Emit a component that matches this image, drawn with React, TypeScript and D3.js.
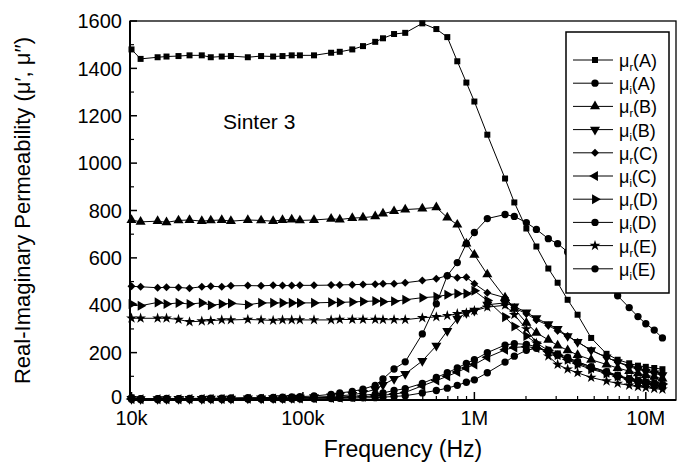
import React from "react";
import * as d3 from "d3";

const freqs = [10e3, 11.3e3, 14.2e3, 16e3, 18.8e3, 21.8e3, 25.7e3, 29e3, 33.6e3, 38e3, 47.7e3, 57e3, 67e3, 76e3, 86e3, 96e3, 116e3, 146e3, 164e3, 194e3, 224e3, 264e3, 293e3, 340e3, 395e3, 497e3, 600e3, 695e3, 795e3, 898e3, 1e6, 1.19e6, 1.51e6, 1.71e6, 2.01e6, 2.3e6, 2.7e6, 3.06e6, 3.5e6, 4e6, 4.8e6, 5.9e6, 6.85e6, 8e6, 9e6, 10e6, 11.2e6, 12.5e6];

const muRA = [1480, 1440, 1447, 1450, 1452, 1455, 1455, 1447, 1450, 1452, 1447, 1452, 1450, 1452, 1455, 1455, 1455, 1466, 1470, 1480, 1494, 1512, 1527, 1545, 1550, 1590, 1566, 1532, 1430, 1340, 1260, 1120, 935, 834, 724, 648, 555, 495, 423, 360, 262, 195, 170, 155, 145, 140, 135, 130];
const muIA = [10, 6, 6, 7, 6, 7, 7, 8, 8, 9, 10, 10, 11, 12, 13, 14, 17, 24, 30, 36, 46, 62, 89, 131, 161, 279, 406, 525, 580, 660, 707, 766, 783, 775, 749, 720, 681, 660, 625, 590, 540, 480, 440, 390, 352, 322, 295, 262];
const muRB = [760, 752, 755, 750, 758, 760, 755, 758, 760, 755, 760, 758, 755, 760, 762, 758, 760, 765, 762, 768, 770, 775, 787, 797, 804, 808, 813, 770, 740, 660, 613, 530, 432, 385, 326, 284, 254, 230, 210, 190, 170, 150, 135, 122, 113, 105, 98, 90];
const muIB = [5, 4, 4, 4, 5, 5, 5, 6, 6, 6, 7, 7, 8, 8, 9, 10, 12, 15, 18, 22, 30, 45, 64, 89, 110, 165, 229, 292, 343, 368, 377, 402, 410, 395, 370, 345, 320, 300, 270, 245, 210, 180, 160, 140, 130, 120, 112, 105];
const muRC = [480, 478, 474, 476, 475, 472, 478, 480, 478, 482, 483, 482, 484, 483, 483, 484, 484, 485, 486, 487, 488, 489, 491, 491, 495, 504, 512, 525, 516, 518, 491, 453, 432, 389, 364, 338, 315, 292, 270, 245, 210, 180, 160, 145, 135, 125, 118, 112];
const muIC = [4, 3, 3, 3, 3, 4, 4, 4, 4, 5, 5, 5, 6, 6, 6, 7, 8, 9, 10, 12, 14, 17, 20, 25, 32, 60, 82, 100, 118, 135, 150, 180, 212, 222, 225, 220, 205, 190, 172, 155, 135, 115, 100, 88, 80, 72, 66, 60];
const muRD = [405, 398, 412, 405, 410, 405, 410, 400, 405, 408, 402, 410, 410, 410, 410, 410, 410, 412, 412, 414, 416, 418, 415, 417, 423, 432, 436, 444, 449, 449, 461, 420, 350, 310, 270, 240, 210, 190, 170, 150, 130, 112, 100, 90, 84, 78, 73, 68];
const muID = [6, 5, 5, 5, 5, 5, 6, 6, 6, 6, 7, 7, 7, 8, 8, 9, 10, 11, 13, 15, 20, 25, 30, 40, 48, 70, 95, 115, 135, 155, 170, 200, 232, 238, 235, 225, 205, 190, 175, 160, 140, 120, 105, 90, 82, 75, 68, 62];
const muRE = [345, 345, 345, 345, 340, 330, 333, 335, 338, 338, 340, 338, 336, 338, 338, 338, 338, 338, 340, 340, 340, 340, 339, 339, 339, 347, 351, 356, 364, 368, 377, 392, 400, 360, 300, 240, 185, 150, 130, 115, 95, 80, 70, 62, 56, 52, 48, 45];
const muIE = [3, 2, 2, 2, 2, 3, 3, 3, 3, 3, 4, 4, 4, 4, 5, 5, 5, 6, 7, 8, 9, 10, 12, 15, 18, 30, 40, 50, 62, 75, 85, 115, 160, 185, 210, 218, 210, 195, 180, 162, 140, 118, 100, 85, 75, 68, 60, 55];

const seriesSub = ["r", "i", "r", "i", "r", "i", "r", "i", "r", "i"];
const seriesSample = ["A", "A", "B", "B", "C", "C", "D", "D", "E", "E"];
const seriesValues = [muRA, muIA, muRB, muIB, muRC, muIC, muRD, muID, muRE, muIE];
const seriesMarker = ["square", "circle", "up", "down", "diamond", "left", "right", "circle", "star", "circle"];

const yTicks = [0, 200, 400, 600, 800, 1000, 1200, 1400, 1600];
const xTickVals = [1e4, 1e5, 1e6, 1e7];
const xTickLabels = ["10k", "100k", "1M", "10M"];

const FONT = "Arial, 'Liberation Sans', Helvetica, sans-serif";

function markerPath(kind: string): { d: string; rot: number } {
  const sym = d3.symbol();
  switch (kind) {
    case "square":
      return { d: sym.type(d3.symbolSquare).size(36)() as string, rot: 0 };
    case "circle":
      return { d: sym.type(d3.symbolCircle).size(42)() as string, rot: 0 };
    case "up":
      return { d: sym.type(d3.symbolTriangle).size(44)() as string, rot: 0 };
    case "down":
      return { d: sym.type(d3.symbolTriangle).size(44)() as string, rot: 180 };
    case "left":
      return { d: sym.type(d3.symbolTriangle).size(44)() as string, rot: -90 };
    case "right":
      return { d: sym.type(d3.symbolTriangle).size(44)() as string, rot: 90 };
    case "diamond":
      return { d: sym.type(d3.symbolSquare).size(32)() as string, rot: 45 };
    case "star":
      return { d: sym.type(d3.symbolStar).size(36)() as string, rot: 0 };
  }
  return { d: "", rot: 0 };
}

export default function App() {
  const W = 680, H = 464;
  const left = 130, right = 676, top = 21, bottom = 400;
  const x = d3.scaleLog().domain([9800, 15e6]).range([left, right]);
  const y = d3.scaleLinear().domain([0, 1600]).range([bottom, top]);
  const line = d3.line<[number, number]>().x((d) => x(d[0])).y((d) => y(d[1]));

  const minorX: number[] = [];
  for (let e = 4; e <= 7; e++) {
    for (let k = 2; k <= 9; k++) {
      const v = k * Math.pow(10, e);
      if (v < 15e6) minorX.push(v);
    }
  }
  const minorY = d3.range(100, 1600, 200);

  const legX = 566, legY = 32, legW = 103, legH = 261;

  return (
    <svg width={W} height={H} style={{ position: "absolute", left: 0, top: 0, background: "#fff" }} fontFamily={FONT}>
      <rect x={0} y={0} width={W} height={H} fill="#fff" />
      {seriesValues.map((vals, si) => {
        const pts = freqs.map((f, i) => [f, vals[i]] as [number, number]);
        const m = markerPath(seriesMarker[si]);
        return (
          <g key={si}>
            <path d={line(pts) as string} fill="none" stroke="#000" strokeWidth={1} />
            {pts.map((p, i) => (
              <path key={i} d={m.d} transform={`translate(${x(p[0])},${y(p[1])}) rotate(${m.rot})`} fill="#000" />
            ))}
          </g>
        );
      })}
      <rect x={left} y={top} width={right - left} height={bottom - top} fill="none" stroke="#000" strokeWidth={1.3} />
      <line x1={left} y1={top} x2={left} y2={bottom} stroke="#000" strokeWidth={2} />
      <line x1={left} y1={bottom} x2={right} y2={bottom} stroke="#000" strokeWidth={2} />
      {yTicks.map((t) => (
        <g key={t}>
          <line x1={left} x2={left + 7} y1={y(t)} y2={y(t)} stroke="#000" strokeWidth={1.5} />
          <text x={left - 8} y={y(t) - (t === 0 ? 3 : 0)} dy="0.36em" textAnchor="end" fontSize={20} fill="#000">{t}</text>
        </g>
      ))}
      {minorY.map((t) => (
        <line key={t} x1={left} x2={left + 4} y1={y(t)} y2={y(t)} stroke="#000" strokeWidth={1.2} />
      ))}
      {xTickVals.map((t, i) => (
        <g key={t}>
          <line x1={x(t)} x2={x(t)} y1={bottom} y2={bottom - 8} stroke="#000" strokeWidth={1.5} />
          <text x={x(t)} y={bottom + 25} textAnchor="middle" fontSize={20} fill="#000">{xTickLabels[i]}</text>
        </g>
      ))}
      {minorX.map((t) => (
        <line key={t} x1={x(t)} x2={x(t)} y1={bottom} y2={bottom - 4} stroke="#000" strokeWidth={1.2} />
      ))}
      <text x={403} y={457} textAnchor="middle" fontSize={23} fill="#000">Frequency (Hz)</text>
      <text transform={`translate(30,${(top + bottom) / 2}) rotate(-90)`} textAnchor="middle" fontSize={22} fill="#000">
        Real-Imaginary Permeability (μ′, μ′′)
      </text>
      <text x={223} y={129} fontSize={21} fill="#000">Sinter 3</text>
      <rect x={legX} y={legY} width={legW} height={legH} fill="#fff" stroke="#000" strokeWidth={1.5} />
      {seriesValues.map((_, si) => {
        const ly = 60 + si * 23.2;
        const m = markerPath(seriesMarker[si]);
        return (
          <g key={si}>
            <line x1={573} x2={613} y1={ly} y2={ly} stroke="#000" strokeWidth={1} />
            <path d={m.d} transform={`translate(595,${ly}) rotate(${m.rot})`} fill="#000" />
            <text x={619} y={ly + 7} fontSize={18} fill="#000">
              μ<tspan dy={4} fontSize={11}>{seriesSub[si]}</tspan>
              <tspan dy={-4}>({seriesSample[si]})</tspan>
            </text>
          </g>
        );
      })}
    </svg>
  );
}
